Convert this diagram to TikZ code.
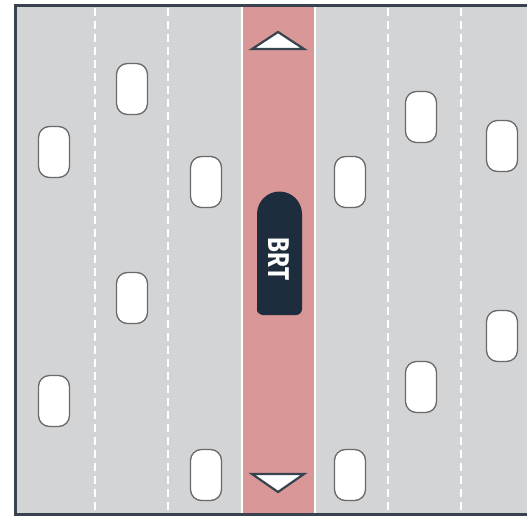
\documentclass[tikz,border=0pt]{standalone}
\usepackage{fontspec}
\setsansfont{Fira Sans}
\definecolor{road}{HTML}{D3D4D6}
\definecolor{brtlane}{HTML}{D99797}
\definecolor{edge}{HTML}{39424F}
\definecolor{busblue}{HTML}{1D2D3D}
\definecolor{carline}{HTML}{6A6A6A}
\tikzset{
  car/.style={draw=carline,line width=1.3,fill=white,rounded corners=11,
    minimum width=31,minimum height=51,inner sep=0},
  lanemark/.style={white,line width=1.6,dash pattern=on 8 off 5},
  arrowhead/.style={draw=edge,fill=white,line width=2.2,line join=miter}
}
\begin{document}
\begin{tikzpicture}[x=1pt,y=-1pt]
\useasboundingbox (0,0) rectangle (527,516);
% road surface
\fill[road] (15,5) rectangle (527,516);
\fill[brtlane] (243,5) rectangle (314,516);
\draw[white,line width=2.2] (242,5) -- (242,514) (315,5) -- (315,514);
% lane markings
\foreach \lx in {95,168,388,461}
  \draw[lanemark] (\lx,8) -- (\lx,512);
% road edge
\draw[edge,line width=3] (527,5.5) -- (15,5.5) -- (15,514.5) -- (527,514.5);
% cars
\node[car] (c1) at (54,152) {};
\node[car] (c2) at (132,89) {};
\node[car] (c3) at (206,182) {};
\node[car] (c4) at (132,298) {};
\node[car] (c5) at (54,401) {};
\node[car] (c6) at (206,475) {};
\node[car] (c7) at (350,182) {};
\node[car] (c8) at (421,117) {};
\node[car] (c9) at (502,146) {};
\node[car] (c10) at (502,336) {};
\node[car] (c11) at (421,387) {};
\node[car] (c12) at (350,475) {};
% direction arrows
\draw[arrowhead] (252,49) -- (278,32) -- (304,49) -- cycle;
\draw[arrowhead] (252,474) -- (278,492) -- (304,474) -- cycle;
% bus
\fill[busblue] (257,315) -- (257,214) arc[start angle=180,end angle=360,radius=22.5]
  -- (302,309) arc[start angle=0,end angle=90,radius=6] -- (263,315)
  arc[start angle=90,end angle=180,radius=6] -- cycle;
\node[white,rotate=-90,font=\sffamily\bfseries\fontsize{30}{30}\selectfont,inner sep=0]
  (bus) at (279,259) {\scalebox{0.8}[1]{BRT}};
\end{tikzpicture}
\end{document}
